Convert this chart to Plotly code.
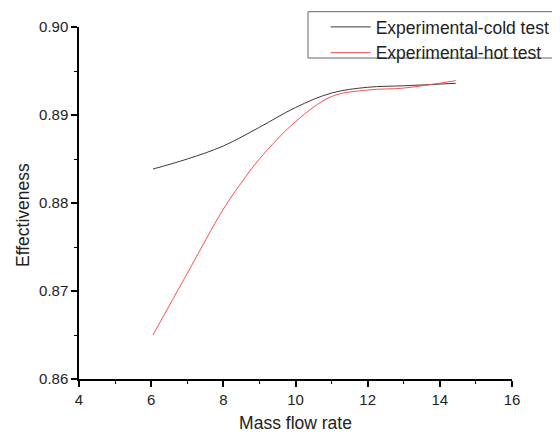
import plotly.graph_objects as go

cold_x = [6.05, 7, 8, 9, 10, 11, 12, 13, 14.44]
cold_y = [0.88386, 0.88500, 0.88648, 0.88860, 0.89085, 0.89250, 0.89315, 0.89332, 0.89360]

hot_x = [6.05, 7, 8, 8.5, 9, 10, 11, 12, 13, 14.44]
hot_y = [0.86500, 0.87200, 0.87930, 0.88230, 0.88500, 0.88924, 0.89210, 0.89284, 0.89306, 0.89390]

x_ticks = [4, 6, 8, 10, 12, 14, 16]
y_ticks = [0.86, 0.87, 0.88, 0.89, 0.90]

# page body adds an 8px offset; compensate in margins
OFF = 8

fig = go.Figure()
fig.add_trace(go.Scatter(x=cold_x, y=cold_y, mode="lines", name="Experimental-cold test",
                         line=dict(color="#3a3a3a", width=1, shape="spline", smoothing=1)))
fig.add_trace(go.Scatter(x=hot_x, y=hot_y, mode="lines", name="Experimental-hot test",
                         line=dict(color="#ff4d4d", width=1, shape="spline", smoothing=1)))

axis_common = dict(showline=True, linecolor="black", linewidth=1.5, ticks="outside",
                   ticklen=6, tickwidth=1.5, tickcolor="black", showgrid=False, zeroline=False,
                   mirror=False, automargin=False, tickfont=dict(size=15, color="#222"))

fig.update_xaxes(range=[4, 16], tickvals=x_ticks, ticktext=[str(v) for v in x_ticks],
                 minor=dict(ticks="outside", ticklen=3, tickwidth=1.2, tickcolor="black", dtick=1),
                 title=dict(text="Mass flow rate", font=dict(size=17.5, color="#222"), standoff=10),
                 **axis_common)
fig.update_yaxes(range=[0.86, 0.90], tickvals=y_ticks, ticktext=["%.2f" % v for v in y_ticks],
                 minor=dict(ticks="outside", ticklen=3, tickwidth=1.2, tickcolor="black", dtick=0.005),
                 **axis_common)

fig.add_annotation(text="Effectiveness", textangle=-90, xref="paper", yref="paper",
                   x=(23 - 79) / 433, y=(379 - 215) / 352, xanchor="center", yanchor="middle",
                   showarrow=False, font=dict(size=17.5, color="#222"))

# legend frame
fig.add_shape(type="rect", xref="paper", yref="paper",
              x0=(308 - 79) / 433, x1=(557 - 79) / 433,
              y0=(379 - 58) / 352, y1=(379 - 11.7) / 352,
              line=dict(color="#666", width=1), fillcolor="rgba(0,0,0,0)", layer="above")

fig.update_layout(
    width=560, height=432,
    margin=dict(l=79 - OFF, r=48 + OFF, t=27 - OFF, b=53 + OFF, autoexpand=False),
    paper_bgcolor="white", plot_bgcolor="white",
    font=dict(family="Liberation Sans, Arial, sans-serif", color="#222"),
    legend=dict(xref="container", yref="container", x=(325.7 - OFF) / 560, y=1 - 1 / 432,
                xanchor="left", yanchor="top",
                borderwidth=0, bgcolor="rgba(0,0,0,0)",
                font=dict(size=17.5, color="#222"), tracegroupgap=0, itemwidth=40),
    showlegend=True,
)

fig.write_html("out.html")
